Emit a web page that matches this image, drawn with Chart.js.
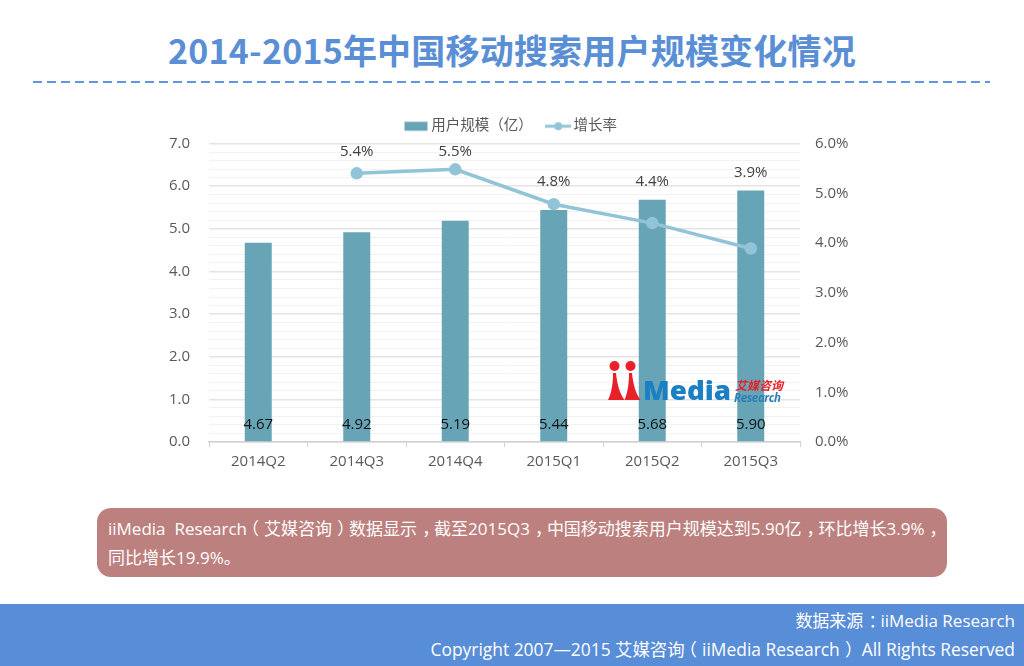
<!DOCTYPE html>
<html lang="zh-Hans"><head><meta charset="utf-8">
<script src="https://cdn.jsdelivr.net/npm/chart.js@4"></script>
<style>
html,body{margin:0;padding:0;background:#fff}
body{width:1024px;height:666px;position:relative;overflow:hidden;font-family:"Open Sans","Noto Sans CJK SC",sans-serif}
#title{position:absolute;left:0;width:1024px;top:25px;text-align:center;font:bold 34px/50px "Noto Sans CJK SC",sans-serif;letter-spacing:.2px;color:#5a8fd6;white-space:nowrap}
#rule{position:absolute;left:33px;top:81px;width:957px;height:2px;background:repeating-linear-gradient(90deg,#5f97e6 0 9px,transparent 9px 14px)}
#wrap{position:absolute;left:0;top:109px;width:1009px;height:368px}
#c{display:block}
#note{position:absolute;left:97px;top:508px;width:850px;height:69px;background:#bc807e;border-radius:14px;color:#fff;font-size:17px}
#note div{position:absolute;left:11px;white-space:nowrap;line-height:28px}
#foot{position:absolute;left:0;top:604px;width:1024px;height:62px;background:#588dd7;color:#fff;font-size:17.4px}
#foot div{position:absolute;right:9px;white-space:nowrap;line-height:28px}
#logo{position:absolute;left:605px;top:358px}
.r{position:relative;left:.3em}.l{position:relative;left:-.3em}
</style></head><body>
<div id="title">2014-2015年中国移动搜索用户规模变化情况</div>
<div id="rule"></div>
<div id="wrap"><canvas id="c" width="1009" height="368"></canvas></div>
<svg id="logo" width="190" height="50" viewBox="0 0 190 50">
<circle cx="9.5" cy="8" r="5" fill="#e8202a"/><circle cx="25.5" cy="8" r="5" fill="#e8202a"/>
<path d="M3 42C7 34 8 24 8 15L11 15C12 26 15 36 19.5 42Z" fill="#e8202a"/>
<path d="M19.5 42C23 34 24 24 24 15L27 15C28 26 31 36 35.5 42Z" fill="#e8202a"/>
<text x="38" y="42" font-family="Open Sans" font-weight="800" font-size="26" fill="#1b7fc4" textLength="88" lengthAdjust="spacingAndGlyphs">Media</text>
<text x="130" y="32" font-family="Noto Sans CJK SC" font-weight="700" font-style="italic" font-size="12" fill="#e8202a" textLength="48">艾媒咨询</text>
<text x="129" y="43.5" font-family="Open Sans" font-weight="700" font-style="italic" font-size="11.5" fill="#2b7fb8" textLength="47">Research</text>
</svg>
<div id="note"><div style="top:7px">iiMedia&nbsp; Research<span class="l">（</span>艾媒咨询<span class="r">）</span>数据显示<span class="r">，</span>截至2015Q3<span class="r">，</span>中国移动搜索用户规模达到5.90亿<span class="r">，</span>环比增长3.9%<span class="r">，</span></div><div style="top:36px">同比增长19.9%。</div></div>
<div id="foot"><div style="top:3px;font-size:17px">数据来源<span class="r">：</span>iiMedia Research</div><div style="top:31px">Copyright 2007—2015 艾媒咨询<span class="l">（</span>iiMedia Research<span class="r">）</span> All Rights Reserved</div></div>
<script>
const categories = ["2014Q2","2014Q3","2014Q4","2015Q1","2015Q2","2015Q3"];
const userScale = [4.67,4.92,5.19,5.44,5.68,5.90];
const growthRate = [null,5.4,5.48,4.78,4.4,3.89];
const growthLabels = [null,"5.4%","5.5%","4.8%","4.4%","3.9%"];
const seriesNames = ["用户规模（亿）","增长率"];
const FONT = '"Open Sans","Noto Sans CJK SC",sans-serif';
const BAR = '#67a5b6', LINE = '#92c4d8';

function swatch(draw){const k=document.createElement('canvas');k.width=26;k.height=12;draw(k.getContext('2d'));return k;}
const barSwatch = swatch(g=>{g.fillStyle=BAR;g.fillRect(1.5,1.5,23,9);});
const lineSwatch = swatch(g=>{g.strokeStyle=LINE;g.lineWidth=3;g.beginPath();g.moveTo(0,6);g.lineTo(26,6);g.stroke();g.fillStyle=LINE;g.beginPath();g.arc(13,6,4,0,7);g.fill();});

const lift = [0,22,18,22,41,76];
const labels = {id:'labels',
 afterLayout(ch){ch.legend.left+=8;ch.legend.right+=8;},
 afterDatasetsDraw(ch){
  const g=ch.ctx;g.save();g.textAlign='center';g.textBaseline='middle';g.font='15px '+FONT;
  g.fillStyle='#111';
  ch.getDatasetMeta(1).data.forEach((b,i)=>g.fillText(userScale[i].toFixed(2),b.x,b.base-17));
  g.fillStyle='#404040';
  ch.getDatasetMeta(0).data.forEach((p,i)=>{if(growthLabels[i])g.fillText(growthLabels[i],p.x,p.y-lift[i]);});
  g.restore();
}};

new Chart(document.getElementById('c'),{
  data:{labels:categories,datasets:[
    {type:'line',label:seriesNames[1],data:growthRate,yAxisID:'y2',borderColor:LINE,backgroundColor:LINE,borderWidth:3.5,pointRadius:4.5,pointHoverRadius:4.5,order:0,spanGaps:false,tension:0},
    {type:'bar',label:seriesNames[0],data:userScale,yAxisID:'y',backgroundColor:BAR,categoryPercentage:1,barPercentage:0.274,order:1}
  ]},
  plugins:[labels],
  options:{responsive:false,animation:false,devicePixelRatio:1,
    layout:{padding:{top:0,bottom:0,left:0,right:0}},
    plugins:{tooltip:{enabled:false},
      legend:{position:'top',align:'center',
        labels:{usePointStyle:true,pointStyleWidth:16,padding:10,color:'#595959',font:{size:14.5,family:FONT},
          generateLabels(){return [
            {text:seriesNames[0]+'  ',pointStyle:barSwatch,fontColor:'#595959',lineWidth:0,strokeStyle:'transparent',fillStyle:BAR,datasetIndex:1},
            {text:seriesNames[1],pointStyle:lineSwatch,fontColor:'#595959',lineWidth:0,strokeStyle:'transparent',fillStyle:LINE,datasetIndex:0}
          ];}
        }}},
    scales:{
      x:{offset:true,
        grid:{display:true,drawOnChartArea:false,offset:true,drawTicks:true,tickLength:5,tickColor:'#d0d0d0',color:'#d0d0d0'},
        border:{color:'#d0d0d0',width:1.5},
        ticks:{color:'#595959',font:{size:15,family:FONT},padding:6,maxRotation:0}},
      y:{position:'left',min:0,max:7,
        afterFit(s){s.width=209;},
        afterBuildTicks(s){const t=[];for(let i=0;i<=35;i++)t.push({value:i/5});s.ticks=t;},
        grid:{drawTicks:false,lineWidth:c=>(c.index%5===0?1.5:1),color:c=>(c.index%5===0?'#e4e4e4':'#f2f2f2')},
        border:{display:false},
        ticks:{autoSkip:false,padding:19,color:'#595959',font:{size:15,family:FONT},callback(v,i){return i%5===0?v.toFixed(1):'';}}},
      y2:{position:'right',min:0,max:6,
        afterFit(s){s.width=209;},
        grid:{display:false},border:{display:false},
        ticks:{stepSize:1,padding:7,color:'#595959',font:{size:15,family:FONT},callback(v){return v.toFixed(1)+'%';}}}
    }
  }
});
</script></body></html>
